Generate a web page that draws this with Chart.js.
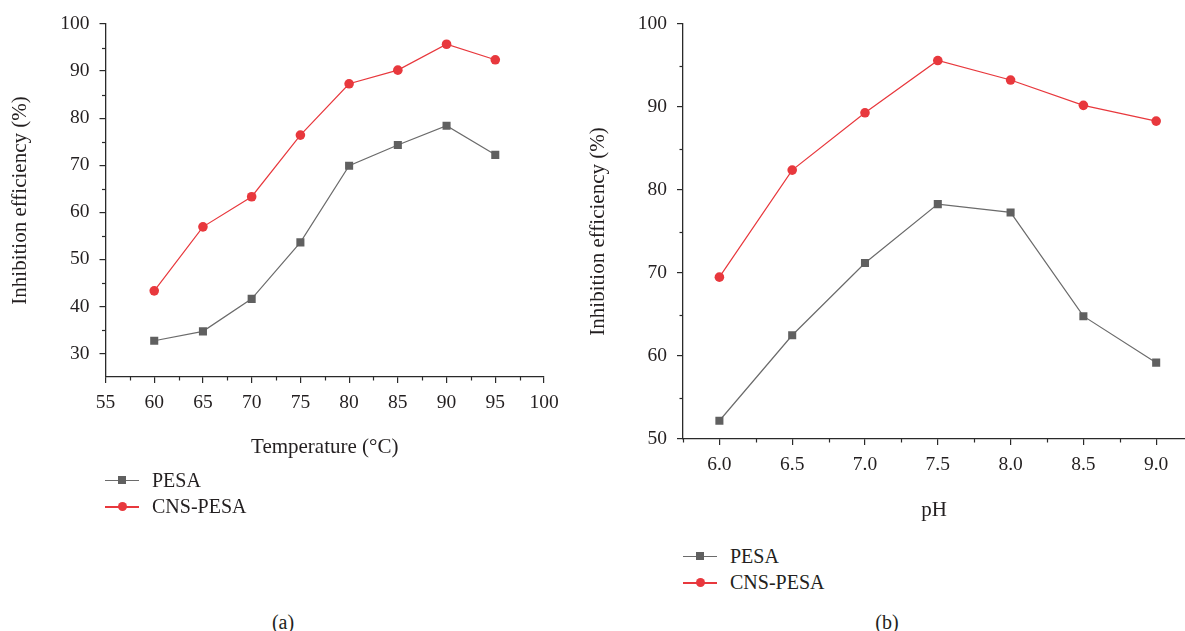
<!DOCTYPE html>
<html>
<head>
<meta charset="utf-8">
<script src="https://cdn.jsdelivr.net/npm/chart.js@4.4.0/dist/chart.umd.min.js"></script>
<style>
html,body{margin:0;padding:0;background:#fff;overflow:hidden;width:1185px;height:631px}
body{position:relative;font-family:'Liberation Serif',serif;color:#231f20}
canvas{position:absolute;top:0}
#chartA{left:0}
#chartB{left:580px}
.legend{position:absolute;font-size:20px}
.row{position:relative;height:26.7px;line-height:26.7px;padding-left:47px;white-space:nowrap}
.ln{position:absolute;left:0;top:13px;width:34px;height:1.3px}
.mk{position:absolute}
.sq{left:13px;top:9.5px;width:8px;height:8px;background:#606060}
.dot{left:12.5px;top:9px;width:9px;height:9px;border-radius:50%;background:#e8383d}
.cap{position:absolute;font-size:20px;transform:translate(-50%,-50%)}
</style>
</head>
<body>
<canvas id="chartA" width="580" height="470"></canvas>
<canvas id="chartB" width="611" height="530"></canvas>

<div class="legend" style="left:105px;top:466.6px">
  <div class="row"><span class="ln" style="background:#6b6b6b"></span><span class="mk sq"></span>PESA</div>
  <div class="row"><span class="ln" style="background:#e8383d"></span><span class="mk dot"></span>CNS-PESA</div>
</div>
<div class="legend" style="left:683px;top:542.6px">
  <div class="row"><span class="ln" style="background:#6b6b6b"></span><span class="mk sq"></span>PESA</div>
  <div class="row"><span class="ln" style="background:#e8383d"></span><span class="mk dot"></span>CNS-PESA</div>
</div>
<div class="cap" style="left:283px;top:621.5px">(a)</div>
<div class="cap" style="left:887px;top:621.5px">(b)</div>

<script>
// (a) temperature
const temperature=[60,65,70,75,80,85,90,95];
const pesaTemp=[32.7,34.7,41.6,53.6,69.9,74.3,78.4,72.2];
const cnsTemp=[43.3,56.9,63.3,76.4,87.3,90.2,95.7,92.4];
const tempTicks=[55,60,65,70,75,80,85,90,95,100];
const effTicksA=[30,40,50,60,70,80,90,100];

// (b) pH
const phValues=[6.0,6.5,7.0,7.5,8.0,8.5,9.0];
const pesaPh=[52.2,62.5,71.2,78.3,77.3,64.8,59.2];
const cnsPh=[69.5,82.4,89.3,95.6,93.25,90.2,88.3];
const phTicks=[6.0,6.5,7.0,7.5,8.0,8.5,9.0];
const effTicksB=[50,60,70,80,90,100];

const AXIS='#2a2a2a';
const GRAY='#6b6b6b';
const RED='#e8383d';
const FONT="'Liberation Serif', serif";

const zip=(xs,ys)=>xs.map((x,i)=>({x:x,y:ys[i]}));

// small ticks half way between the labelled ones
const minorTicks={
    id:'minorTicks',
    afterDraw(chart){
        const ctx=chart.ctx;
        ctx.save();
        ctx.strokeStyle=AXIS;
        ctx.lineWidth=1.2;
        for(const s of Object.values(chart.scales)){
            const t=s.ticks.map(k=>k.value);
            if(t.length<2) continue;
            const step=t[1]-t[0];
            for(let v=t[0]-step/2;v<=s.max+1e-9;v+=step){
                if(v<s.min-1e-9) continue;
                ctx.beginPath();
                if(s.isHorizontal()){
                    const px=Math.round(s.getPixelForValue(v))+0.5;
                    ctx.moveTo(px,s.top);
                    ctx.lineTo(px,s.top+3.5);
                }else{
                    if(Math.abs(v-s.min)<1e-9) continue;
                    const py=Math.round(s.getPixelForValue(v))+0.5;
                    ctx.moveTo(s.right,py);
                    ctx.lineTo(s.right-3.5,py);
                }
                ctx.stroke();
            }
        }
        ctx.restore();
    }
};

function makeChart(id,xs,pesa,cns,o){
    return new Chart(document.getElementById(id),{
        type:'line',
        data:{
            datasets:[{
                label:'PESA',
                data:zip(xs,pesa),
                borderColor:GRAY,
                backgroundColor:'#606060',
                borderWidth:1.2,
                pointStyle:'rect',
                pointRadius:5.7,
                pointBorderWidth:0,
                tension:0
            },{
                label:'CNS-PESA',
                data:zip(xs,cns),
                borderColor:RED,
                backgroundColor:RED,
                borderWidth:1.2,
                pointStyle:'circle',
                pointRadius:4.8,
                pointBorderWidth:0,
                tension:0
            }]
        },
        options:{
            responsive:false,
            animation:false,
            devicePixelRatio:1,
            layout:{padding:o.padding},
            plugins:{legend:{display:false},tooltip:{enabled:false}},
            scales:{
                x:{
                    type:'linear',
                    min:o.xMin,max:o.xMax,
                    afterBuildTicks:s=>{s.ticks=o.xTicks.map(v=>({value:v}))},
                    afterFit:s=>{s.height=o.xHeight},
                    ticks:{color:'#231f20',font:{family:FONT,size:19.5},padding:8,maxRotation:0,autoSkip:false,
                        callback:v=>o.xFmt(v)},
                    grid:{drawOnChartArea:false,tickLength:6,tickColor:AXIS,lineWidth:1.2},
                    border:{color:AXIS,width:1.3},
                    title:{display:true,text:o.xTitle,color:'#231f20',font:{family:FONT,size:21},padding:{top:0,bottom:0}}
                },
                y:{
                    min:o.yMin,max:100,
                    afterBuildTicks:s=>{s.ticks=o.yTicks.map(v=>({value:v}))},
                    afterFit:s=>{s.width=o.yWidth},
                    ticks:{color:'#231f20',font:{family:FONT,size:19.5},padding:10},
                    grid:{drawOnChartArea:false,tickLength:6,tickColor:AXIS,lineWidth:1.2},
                    border:{color:AXIS,width:1.3},
                    title:{display:true,text:'Inhibition efficiency (%)',color:'#231f20',font:{family:FONT,size:21},padding:{top:o.yTitlePad,bottom:0}}
                }
            }
        },
        plugins:[minorTicks]
    });
}

makeChart('chartA',temperature,pesaTemp,cnsTemp,{
    padding:{left:0,top:24,right:36,bottom:10.4},
    xMin:55,xMax:100,xTicks:tempTicks,xFmt:v=>String(v),xHeight:82.6,
    xTitle:'Temperature (°C)',
    yMin:25,yTicks:effTicksA,yWidth:105.5,yTitlePad:7.4
});

makeChart('chartB',phValues,pesaPh,cnsPh,{
    padding:{left:0,top:24,right:0,bottom:7.4},
    xMin:5.75,xMax:9.2,xTicks:phTicks,xFmt:v=>v.toFixed(1),xHeight:83.6,
    xTitle:'pH',
    yMin:50,yTicks:effTicksB,yWidth:103,yTitlePad:5.4
});
</script>
</body>
</html>
